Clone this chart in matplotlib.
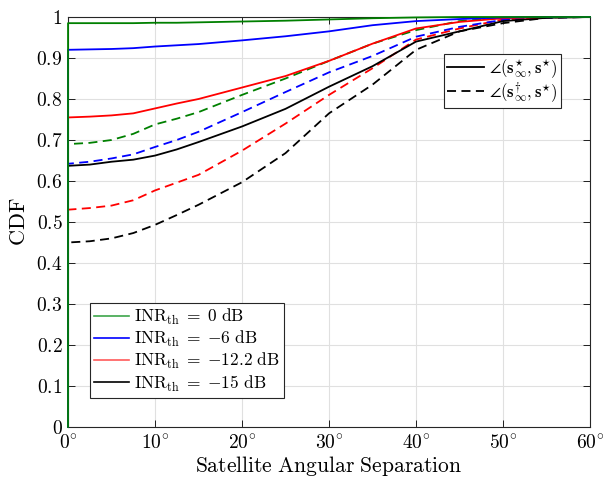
import numpy as np
import matplotlib
matplotlib.use("Agg")
import matplotlib.pyplot as plt
from matplotlib.lines import Line2D

plt.rcParams["mathtext.fontset"] = "cm"
plt.rcParams["font.family"] = ["DejaVu Serif"]

# angular separation (deg); first point duplicates 0 for the jump from CDF=0
deg = [0, 0, 2.5, 5, 7.5, 10, 12.5, 15, 20, 25, 30, 35, 40, 45, 50, 55, 60]

# solid: angle(s*_inf, s*), dashed: angle(s+_inf, s*)
green_solid = [0, 0.985, 0.985, 0.985, 0.985, 0.986, 0.986, 0.987, 0.989, 0.991, 0.994, 0.997, 0.999, 1, 1, 1, 1]
green_dash = [0, 0.69, 0.693, 0.70, 0.715, 0.738, 0.752, 0.768, 0.81, 0.85, 0.893, 0.935, 0.968, 0.99, 0.998, 1, 1]
blue_solid = [0, 0.92, 0.921, 0.922, 0.924, 0.928, 0.931, 0.934, 0.943, 0.953, 0.965, 0.98, 0.99, 0.995, 0.999, 1, 1]
blue_dash = [0, 0.642, 0.647, 0.655, 0.665, 0.683, 0.70, 0.72, 0.768, 0.817, 0.865, 0.905, 0.952, 0.976, 0.993, 0.999, 1]
red_solid = [0, 0.755, 0.757, 0.76, 0.765, 0.777, 0.789, 0.80, 0.828, 0.856, 0.893, 0.935, 0.972, 0.988, 0.997, 1, 1]
red_dash = [0, 0.53, 0.534, 0.54, 0.553, 0.577, 0.596, 0.615, 0.674, 0.74, 0.81, 0.875, 0.945, 0.972, 0.994, 0.999, 1]
black_solid = [0, 0.637, 0.64, 0.647, 0.652, 0.662, 0.677, 0.695, 0.733, 0.776, 0.83, 0.88, 0.94, 0.965, 0.99, 0.998, 1]
black_dash = [0, 0.45, 0.453, 0.46, 0.473, 0.493, 0.517, 0.542, 0.597, 0.668, 0.765, 0.835, 0.92, 0.965, 0.985, 0.998, 1]

labels = [r"$\mathrm{INR_{th}}\;=\;0\ \mathrm{dB}$",
          r"$\mathrm{INR_{th}}\;=\;{-6}\ \mathrm{dB}$",
          r"$\mathrm{INR_{th}}\;=\;{-12.2}\ \mathrm{dB}$",
          r"$\mathrm{INR_{th}}\;=\;{-15}\ \mathrm{dB}$"]
colors = ["#008000", "#0000ff", "#ff0000", "#000000"]
leg_colors = ["#3da64a", "#0000ff", "#ff5a5a", "#000000"]
solids = [green_solid, blue_solid, red_solid, black_solid]
dashes = [green_dash, blue_dash, red_dash, black_dash]

fig = plt.figure(figsize=(6.03, 4.79), dpi=100)
ax = fig.add_axes([0.1128, 0.1086, 0.8657, 0.8559])

for i in [3, 2, 1, 0]:
    ax.plot(deg, dashes[i], color=colors[i], lw=1.3, dashes=(5, 3), zorder=3, clip_on=False)
for i in [3, 2, 1, 0]:
    ax.plot(deg, solids[i], color=colors[i], lw=1.3, zorder=3, clip_on=False)

ax.set_xlim(0, 60)
ax.set_ylim(0, 1)
xt = np.arange(0, 61, 10)
ax.set_xticks(xt)
ax.set_xticklabels([rf"${v}^{{\circ}}$" for v in xt])
yt = np.round(np.arange(0, 1.01, 0.1), 1)
ax.set_yticks(yt)
ax.set_yticklabels(["$0$"] + [f"${v:g}$" for v in yt[1:-1]] + ["$1$"])
ax.tick_params(direction="in", top=True, right=True, labelsize=14, length=5, width=0.6)
ax.tick_params(axis="x", pad=5)
ax.tick_params(axis="y", pad=4)
ax.grid(color="#e0e0e0", lw=0.8)
for s in ax.spines.values():
    s.set_linewidth(0.8)
    s.set_color("#262626")
ax.set_xlabel(r"$\mathrm{Satellite\ Angular\ Separation}$", fontsize=15.5, labelpad=1)
ax.set_ylabel(r"$\mathrm{CDF}$", fontsize=16, labelpad=4)

h1 = [Line2D([], [], color=c, lw=1.2) for c in leg_colors]
leg1 = ax.legend(h1, labels, loc="lower left", bbox_to_anchor=(0.042, 0.071), fontsize=12.5,
                 fancybox=False, edgecolor="#262626", framealpha=1, handlelength=2.0,
                 labelspacing=0.12, borderpad=0.25, handletextpad=0.3, borderaxespad=0)
leg1.get_frame().set_linewidth(0.8)
ax.add_artist(leg1)

h2 = [Line2D([], [], color="k", lw=1.3), Line2D([], [], color="k", lw=1.3, dashes=(5, 3))]
lab2 = [r"$\angle(\mathbf{s}^{\star}_{\infty}, \mathbf{s}^{\star})$",
        r"$\angle(\mathbf{s}^{\dagger}_{\infty}, \mathbf{s}^{\star})$"]
leg2 = ax.legend(h2, lab2, loc="upper right", bbox_to_anchor=(0.944, 0.91), fontsize=12,
                 fancybox=False, edgecolor="#262626", framealpha=1, handlelength=2.2,
                 labelspacing=0.0, borderpad=0.2, handletextpad=0.3, borderaxespad=0)
leg2.get_frame().set_linewidth(0.8)

fig.savefig("out.png", dpi=100)
